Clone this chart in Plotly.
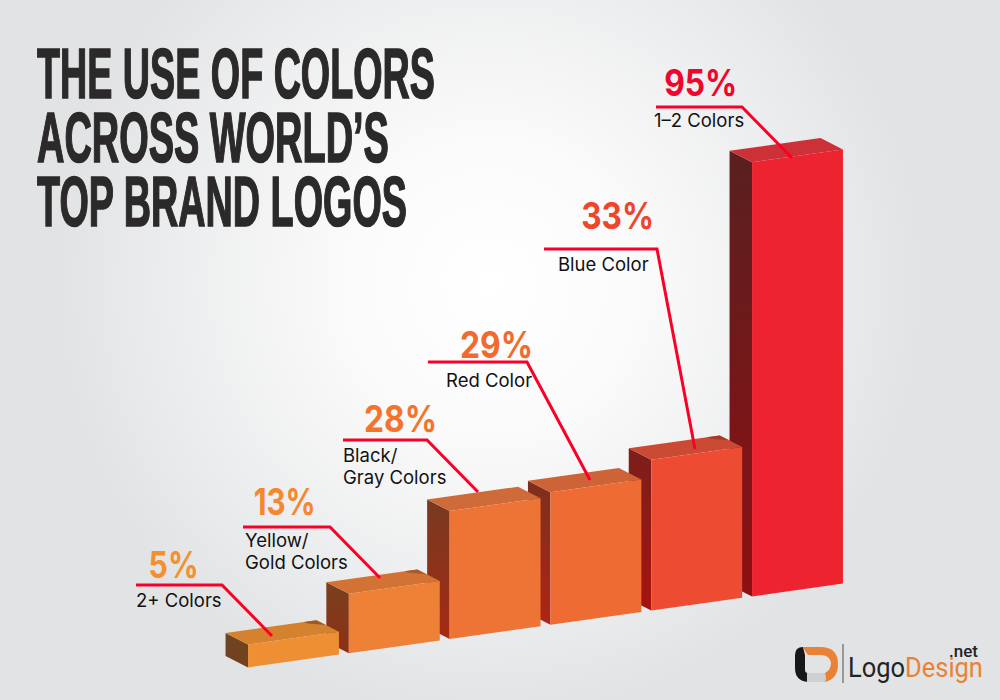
import plotly.graph_objects as go

# ---- data -------------------------------------------------------------
categories = ["2+ Colors", "Yellow/<br>Gold Colors", "Black/<br>Gray Colors",
              "Red Color", "Blue Color", "1\u20132 Colors"]
values = [5, 13, 28, 29, 33, 95]

# ---- styles -----------------------------------------------------------
front_colors = ["#EF8F33", "#EE8136", "#EE7435", "#EE6C33", "#EE4C32", "#EE2330"]
top_colors = ["#D5822F", "#D27235", "#CE6B38", "#CE6338", "#CB4A34", "#CC3138"]
side_top = ["#6C4522", "#78401F", "#773A20", "#7E2F1D", "#7C1F1B", "#5A2020"]
side_bottom = ["#75401F", "#8F3015", "#A52A15", "#AE2514", "#A8120E", "#8E0F12"]
shadow_colors = {0: "#9A5A28", 1: "#A85A2A", 4: "#A83A2A"}
text_colors = ["#F6902F", "#F6872E", "#F4732D", "#F26A2E", "#EF452B", "#F0052B"]
LEADER = "#FA0028"

# label placement, in image pixels
pct_xy = [(173, 564), (284, 501), (400, 418), (496, 344), (617, 216), (700, 83)]
lab_xy = [(134, 600), (243, 540), (341, 455), (444, 380), (556, 264), (652, 120)]
LINE_GAP = 22
leaders = [[(136, 585), (222, 585), (272, 636)],
           [(243, 527), (330, 527), (380, 578)],
           [(343, 440), (427, 440), (478, 492)],
           [(428, 362), (527, 362), (590, 480)],
           [(544, 249), (657, 249), (695, 449)],
           [(656, 107), (742, 107), (792, 158)]]

# ---- oblique projection: bars stand on a sheared floor ------------------
PX_X, PX_Y = 100.8, 4.57          # pixels per category, pixels per percent
ORIGIN_X, ORIGIN_Y = 293.5, 661   # pixel of category 0, value 0
HALF = 0.451
SHEAR = 14.2 / PX_Y               # rise of the floor per category
DEPTH_X, DEPTH_Y = 22.5 / PX_X, 11.5 / PX_Y


def project(x, v, d=0):
    return x - d * DEPTH_X, v + SHEAR * x + d * DEPTH_Y


def face(corners):
    pts = [project(*c) for c in corners + corners[:1]]
    return [p[0] for p in pts], [p[1] for p in pts]


fig = go.Figure()

# background glow: a circle of light on flat grey
GLOW_CX, GLOW_CY, GLOW_R = 490, 285, 435
gx0, gx1 = (GLOW_CX - GLOW_R - ORIGIN_X) / PX_X, (GLOW_CX + GLOW_R - ORIGIN_X) / PX_X
gy0, gy1 = (ORIGIN_Y - GLOW_CY - GLOW_R) / PX_Y, (ORIGIN_Y - GLOW_CY + GLOW_R) / PX_Y
fig.add_trace(go.Scatter(
    x=[gx0, gx1, gx1, gx0, gx0], y=[gy0, gy0, gy1, gy1, gy0],
    mode="lines", fill="toself", line=dict(width=0),
    fillgradient=dict(type="radial", colorscale=[
        [0, "#FFFFFF"], [0.35, "#FAFAFA"], [0.7, "#EDEEEF"], [1, "#E2E3E5"]]),
    hoverinfo="skip", showlegend=False))

# bars, back (right) to front (left)
for i in reversed(range(len(values))):
    v = values[i]
    l, r = i - HALF, i + HALF
    sx, sy = face([(l, 0, 0), (l, v, 0), (l, v, 1), (l, 0, 1)])
    fig.add_trace(go.Scatter(
        x=sx, y=sy, mode="lines", fill="toself", line=dict(width=0),
        fillgradient=dict(type="vertical", colorscale=[
            [0, side_bottom[i]], [1, side_top[i]]]),
        name=categories[i], hoverinfo="skip", showlegend=False))
    tx, ty = face([(l, v, 0), (r, v, 0), (r, v, 1), (l, v, 1)])
    fig.add_trace(go.Scatter(
        x=tx, y=ty, mode="lines", fill="toself", line=dict(width=0),
        fillcolor=top_colors[i], hoverinfo="skip", showlegend=False))
    if i in shadow_colors:
        w = r - l
        hx, hy = face([(l + 0.86 * w, v, 1), (r, v, 1), (r, v, 0.58), (r - 0.13 * w, v, 0.86)])
        fig.add_trace(go.Scatter(
            x=hx, y=hy, mode="lines", fill="toself", line=dict(width=0),
            fillcolor=shadow_colors[i], hoverinfo="skip", showlegend=False))
    fx, fy = face([(l, 0, 0), (r, 0, 0), (r, v, 0), (l, v, 0)])
    fig.add_trace(go.Scatter(
        x=fx, y=fy, mode="lines", fill="toself", line=dict(width=0),
        fillcolor=front_colors[i], name=f"{categories[i]}: {v}%",
        hoverinfo="name", showlegend=False))


def X(p):
    return p / 1000


def Y(p):
    return 1 - p / 700


def q(a, b):
    return f"{X(a):.4f},{Y(b):.4f}"


annotations = []
shapes = []


def text(t, x, y, size, color, family, anchor="center", weight=None):
    f = dict(size=size, color=color, family=family)
    if weight:
        f["weight"] = weight
    annotations.append(dict(text=t, x=X(x), y=Y(y), xref="paper", yref="paper",
                            xanchor=anchor, yanchor="middle", align="left",
                            showarrow=False, font=f))


def stroke(pts, color, width):
    path = "M " + " L ".join(q(a, b) for a, b in pts)
    shapes.append(dict(type="path", path=path, xref="paper", yref="paper",
                       line=dict(color=color, width=width), layer="above"))


def blob(path, color):
    shapes.append(dict(type="path", path=path, xref="paper", yref="paper",
                       fillcolor=color, line=dict(width=0), layer="above"))


for i, v in enumerate(values):
    text(f"{v}%", *pct_xy[i], 37, text_colors[i], "Inter", weight=700)
    for k, line in enumerate(categories[i].split("<br>")):
        text(line, lab_xy[i][0], lab_xy[i][1] + k * LINE_GAP, 18.5, "#111111", "Inter", anchor="left")
    stroke(leaders[i], LEADER, 3)

# title
TITLE = [("THE USE OF COLORS", 73.5), ("ACROSS WORLD\u2019S", 137.5), ("TOP BRAND LOGOS", 201.5)]
for t, y in TITLE:
    text(t, 35, y, 71, "#2B292A", "Liberation Sans", anchor="left", weight=700)

# logo mark
blob("M " + q(795, 655) + " Q " + q(795, 647) + " " + q(803, 647) + " L " + q(805, 655) +
     " L " + q(805, 670) + " Q " + q(805, 673) + " " + q(808, 673) + " L " + q(808, 682) +
     " Q " + q(795, 681) + " " + q(795, 668) + " Z", "#18181A")
blob("M " + q(807, 673) + " L " + q(826, 673) + " L " + q(826, 682) + " L " + q(807, 682) + " Z", "#CFD0D2")
blob("M " + q(803, 647) + " L " + q(822, 647) + " Q " + q(838, 648) + " " + q(838, 664) +
     " Q " + q(838, 679) + " " + q(825, 682) + " Q " + q(827, 678) + " " + q(825, 673) +
     " Q " + q(831, 670) + " " + q(831, 663) + " Q " + q(830, 656) + " " + q(822, 655) +
     " L " + q(808, 655) + " Q " + q(805, 652) + " " + q(803, 647) + " Z", "#E98236")
stroke([(843, 644), (843, 683)], "#666666", 1.2)
text('<span style="color:#232325">Logo</span><span style="color:#E98236">Design</span>',
     846, 667, 28, "#232325", "Roboto", anchor="left")
text(".net", 947, 651, 17, "#232325", "Roboto", anchor="left", weight=500)

fig.update_layout(
    width=1000, height=700, margin=dict(l=0, r=0, t=0, b=0),
    paper_bgcolor="#E2E3E5", plot_bgcolor="rgba(0,0,0,0)", showlegend=False,
    xaxis=dict(range=[-ORIGIN_X / PX_X, (1000 - ORIGIN_X) / PX_X], visible=False, fixedrange=True),
    yaxis=dict(range=[(ORIGIN_Y - 700) / PX_Y, ORIGIN_Y / PX_Y], visible=False, fixedrange=True),
    annotations=annotations, shapes=shapes,
)

# condense glyphs horizontally to the poster's narrow lettering
post = """
document.body.style.margin = '0';
var titles = {'THE USE OF COLORS': 398, 'ACROSS WORLD\u2019S': 352, 'TOP BRAND LOGOS': 370};
var others = {'5%': 50, '13%': 62, '28%': 73, '29%': 73, '33%': 73, '95%': 73};
document.querySelectorAll('.annotation-text').forEach(function (t) {
  var s = t.textContent, isLeft = titles[s] || s === 'LogoDesign';
  var w = titles[s] || others[s] || (s === 'LogoDesign' ? 135 : 0);
  if (!w) return;
  var bb = t.getBBox(), k = w / bb.width;
  var a = isLeft ? bb.x : bb.x + bb.width / 2;
  t.setAttribute('transform', 'translate(' + a + ',0) scale(' + k + ',1) translate(' + (-a) + ',0)');
  if (titles[s]) {
    t.style.stroke = '#2B292A';
    t.style.strokeWidth = '1.6px';
  }
});
"""
fig.write_html("out.html", post_script=post, config={"displayModeBar": False})
